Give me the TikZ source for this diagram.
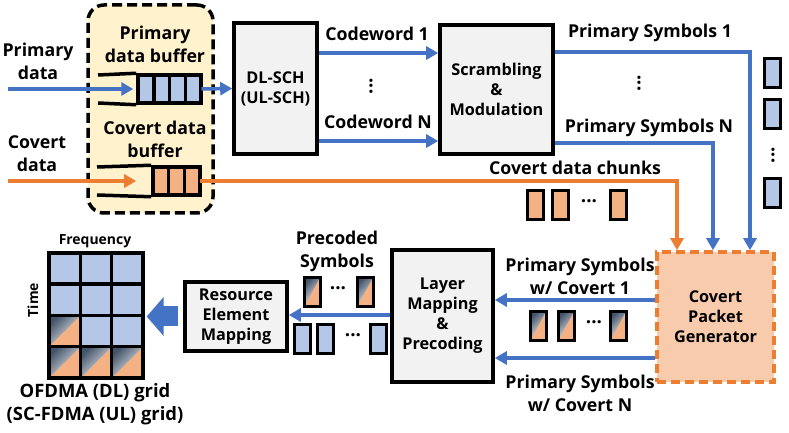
\documentclass[tikz,border=0pt]{standalone}
\usepackage{fontspec}
\setmainfont{Open Sans}
\usetikzlibrary{positioning, arrows.meta, calc, fit}
\definecolor{lnblue}{HTML}{4472C4}
\definecolor{lnorange}{HTML}{ED7D31}
\definecolor{boxgray}{HTML}{F2F2F2}
\definecolor{bufyellow}{HTML}{FFF2CC}
\definecolor{symblue}{HTML}{B4C7E7}
\definecolor{symorange}{HTML}{F4B183}
\definecolor{genorange}{HTML}{F8CBAD}
\definecolor{gdark}{HTML}{44546A}

\begin{document}
\begin{tikzpicture}[x=1bp, y=-1bp,
  every node/.style={font=\fontsize{17.8}{23}\selectfont\bfseries, inner sep=0pt, align=center},
  blk/.style    = {draw=black, line width=3.6bp, fill=boxgray, font=\fontsize{16.3}{20}\selectfont\bfseries},
  arr/.style    = {line width=3.5bp, -{Triangle[length=12bp, width=13bp]}},
  barr/.style   = {arr, lnblue},
  oarr/.style   = {arr, lnorange},
  qline/.style  = {line width=3.5bp, black},
  cell/.style   = {draw=black, line width=3.5bp, minimum height=28bp},
  sym/.style    = {draw=black, line width=3bp, minimum width=16bp, minimum height=29bp},
  bsym/.style   = {sym, fill=symblue},
  osym/.style   = {sym, fill=symorange},
  gshade/.style = {path picture={
      \shade[top color=gdark, middle color=symblue!70!white, bottom color=white, shading angle=45]
        (path picture bounding box.north west) -- (path picture bounding box.north east)
        -- (path picture bounding box.south west) -- cycle;}},
  gsym/.style   = {sym, fill=symorange, gshade},
  gcell/.style  = {draw=black, line width=3.5bp, minimum width=31.3bp, minimum height=31.25bp, fill=symblue},
  dots/.style   = {font=\fontsize{19}{20}\selectfont\bfseries},
  small/.style  = {font=\fontsize{14}{16}\selectfont\bfseries},
]
\useasboundingbox (0,0) rectangle (789,433);

% buffers
\node[draw=black, dash pattern=on 10bp off 5bp, line width=3.5bp, rounded corners=16bp, fill=bufyellow,
      minimum width=125bp, minimum height=208bp] (buf) at (150.5,109) {};
\node (pbuftxt) at (155,44) {Primary\\data buffer};
\node (cbuftxt) at (155,139) {Covert data\\buffer};
\foreach \i in {0,...,3}
  \node[cell, fill=symblue, minimum width=15.75bp] (pq\i) at (145.9+15.75*\i,89) {};
\foreach \i in {0,...,2}
  \node[cell, fill=symorange, minimum width=15.67bp] (cq\i) at (160.8+15.67*\i,181) {};
\coordinate (pqtl) at (98,75);
\coordinate (pqbl) at (98,103);
\coordinate (cqtl) at (97,167);
\coordinate (cqbl) at (97,195);
\draw[qline] (pqtl) -- (pq0.north west);
\draw[qline] (pqbl) -- (pq0.south west);
\draw[qline] (cqtl) -- (cq0.north west);
\draw[qline] (cqbl) -- (cq0.south west);

\node (pdata) at (38,61) {Primary\\data};
\node (cdata) at (37,154) {Covert\\data};
\coordinate (pin) at (8,89);
\coordinate (cin) at (8,181);
\draw[barr] (pin) -- ([xshift=-3bp]pq0.west);
\draw[oarr] (cin) -- ([xshift=-15bp]cq0.west);

% processing blocks
\node[blk, minimum width=83bp, minimum height=131bp] (dlsch) at (275.5,88.5) {DL-SCH\\(UL-SCH)};
\node[blk, minimum width=113bp, minimum height=129bp] (scram) at (496.5,89.5) {Scrambling\\\&\\Modulation};
\node[blk, draw=lnorange, dash pattern=on 9bp off 5bp, fill=genorange, minimum width=117bp, minimum height=130bp] (gen) at (715.5,317) {Covert\\Packet\\Generator};
\node[blk, minimum width=101bp, minimum height=132bp] (layer) at (442.5,316) {Layer\\Mapping\\\&\\Precoding};
\node[blk, minimum width=102bp, minimum height=69bp] (rem) at (236,316.5) {Resource\\Element\\Mapping};

\draw[barr] ([xshift=-1.5bp]pq3.east) -- (dlsch.west);

% codewords
\coordinate (cw1) at (0,53);
\coordinate (cwn) at (0,141);
\draw[barr] (dlsch.east |- cw1) -- (scram.west |- cw1);
\draw[barr] (dlsch.east |- cwn) -- (scram.west |- cwn);
\node (cw1txt) at (377,34) {Codeword 1};
\node (cwntxt) at (378,122) {Codeword N};
\node[dots, rotate=90] (cwdots) at (371,86) {...};

% primary symbols to generator
\coordinate (ps1) at (0,52);
\coordinate (psn) at (0,143);
\draw[barr] (scram.east |- ps1) -| ([xshift=34.5bp]gen.north);
\draw[barr] (scram.east |- psn) -| ([xshift=-2.5bp]gen.north);
\draw[oarr] ([xshift=-1.5bp]cq2.east) -| ([xshift=-38.5bp]gen.north);
\node (ps1txt) at (650,33) {Primary Symbols 1};
\node (psntxt) at (649,128) {Primary Symbols N};
\node (covtxt) at (575,168) {Covert data chunks};
\node[dots, rotate=90] (psdots) at (639,83) {...};

% symbol column on the right
\node[bsym] (rs1) at (772,73) {};
\node[bsym] (rs2) at (772,114) {};
\node[dots, rotate=90] (rsdots) at (773,155) {...};
\node[bsym] (rs3) at (772,193) {};

% covert chunks
\node[osym] (cc1) at (535,205) {};
\node[osym] (cc2) at (560,205) {};
\node[dots] (ccdots) at (589,201) {...};
\node[osym] (cc3) at (618,205) {};

% generator back to layer mapping
\coordinate (pc1) at (0,300);
\coordinate (pcn) at (0,358);
\coordinate (pre) at (0,315);
\draw[barr] (gen.west |- pc1) -- (layer.east |- pc1);
\draw[barr] (gen.west |- pcn) -- (layer.east |- pcn);
\node (pc1txt) at (580,276) {Primary Symbols\\w/ Covert 1};
\node (pcntxt) at (580,393) {Primary Symbols\\w/ Covert N};
\node[gsym] (gs1) at (538,326) {};
\node[gsym] (gs2) at (566,326) {};
\node[dots] (gsdots) at (594,322) {...};
\node[gsym] (gs3) at (618,326) {};

% precoded symbols
\draw[barr] (layer.west |- pre) -- (rem.east |- pre);
\node (prtxt) at (337,251) {Precoded\\Symbols};
\node[gsym] (pg1) at (312,292) {};
\node[dots] (pgdots) at (338,288) {...};
\node[gsym] (pg2) at (365,292) {};
\node[bsym] (pb1) at (302,339) {};
\node[bsym] (pb2) at (325,339) {};
\node[dots] (pbdots) at (353,335) {...};
\node[bsym] (pb3) at (378,339) {};

% resource grid
\foreach \c/\r in {0/0,1/0,2/0,0/1,1/1,2/1,1/2,2/2}
  \node[gcell] (g\c\r) at (64.65+31.3*\c,268.6+31.25*\r) {};
\foreach \c/\r in {0/2,0/3,1/3,2/3}
  \node[gcell, fill=symorange, gshade] (g\c\r) at (64.65+31.3*\c,268.6+31.25*\r) {};
\node[small] (freq) at (95,241) {Frequency};
\node[small, rotate=90] (time) at (33,300) {Time};
\node[font=\fontsize{18.5}{23}\selectfont\bfseries] (gridtxt) at (95,404) {OFDMA (DL) grid\\(SC-FDMA (UL) grid)};
\draw[lnblue, line width=20bp, -{Triangle[length=17bp, width=38bp]}] ([xshift=-5bp]rem.west) -- ([xshift=2bp]g20.east |- rem.west);
\end{tikzpicture}
\end{document}
